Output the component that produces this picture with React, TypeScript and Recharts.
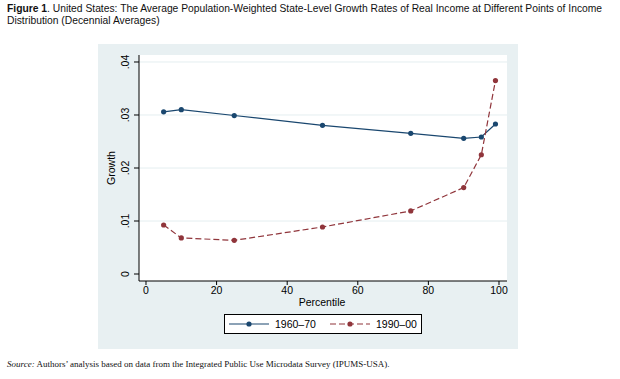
import React from 'react';
import { LineChart, Line, XAxis, YAxis, CartesianGrid } from 'recharts';

const percentiles = [5, 10, 25, 50, 75, 90, 95, 99];
const growth1960 = [0.0306, 0.031, 0.0299, 0.02805, 0.02655, 0.0256, 0.02585, 0.0283];
const growth1990 = [0.00925, 0.0068, 0.00635, 0.00887, 0.0119, 0.0163, 0.0225, 0.0365];
const seriesNames = ['1960–70', '1990–00'];
const xTicks = [0, 20, 40, 60, 80, 100];
const yTicks = [0, 0.01, 0.02, 0.03, 0.04];

const data = percentiles.map((p, i) => ({ p, a: growth1960[i], b: growth1990[i] }));

const BLUE = '#1a476f';
const RED = '#90353b';
const FONT = '"Liberation Sans", Arial, Helvetica, sans-serif';

const fmtY = (v: number) => (v === 0 ? '0' : v.toFixed(2).replace(/^0/, ''));

const YTick = (props: any) => {
  const { x, y, payload } = props;
  return (
    <text
      transform={`translate(${x - 3},${y}) rotate(-90)`}
      textAnchor="middle"
      fontSize={10.5}
      fontFamily={FONT}
      fill="#000"
    >
      {fmtY(payload.value)}
    </text>
  );
};

const LegendItem = ({ color, dashed, label, left }: { color: string; dashed: boolean; label: string; left: number }) => (
  <div style={{ position: 'absolute', left, top: 0, height: 18, display: 'flex', alignItems: 'center', whiteSpace: 'nowrap' }}>
    <svg width={42} height={10} style={{ marginRight: 5 }}>
      <line x1={1} y1={5} x2={41} y2={5} stroke={color} strokeWidth={1.2} strokeDasharray={dashed ? '6 3' : undefined} />
      <circle cx={21} cy={5} r={2.6} fill={color} />
    </svg>
    <span>{label}</span>
  </div>
);

export default function App() {
  return (
    <div style={{ position: 'absolute', left: 0, top: 0, width: 620, height: 379, background: '#fff', fontFamily: FONT, overflow: 'hidden' }}>
      <div style={{ position: 'absolute', left: 7, top: 3, width: 610, fontSize: 10.3, lineHeight: '12px', color: '#111', whiteSpace: 'nowrap' }}>
        <span style={{ fontWeight: 'bold' }}>Figure 1</span>. United States: The Average Population-Weighted State-Level Growth Rates of Real Income at Different Points of Income
        <br />
        Distribution (Decennial Averages)
      </div>
      <div style={{ position: 'absolute', left: 98, top: 44, width: 420, height: 305, background: '#e8f0f2' }} />
      <div style={{ position: 'absolute', left: 98, top: 44 }}>
        <LineChart width={420} height={305} data={data} margin={{ top: 11, right: 11, bottom: 0, left: 0 }}>
          <CartesianGrid fill="#fff" vertical={false} stroke="#e4eef0" horizontalValues={[0.01, 0.02, 0.03, 0.04]} />
          <XAxis
            dataKey="p"
            type="number"
            domain={[-1.98, 102.27]}
            allowDataOverflow
            ticks={xTicks}
            height={68}
            tickSize={4}
            tickMargin={2}
            stroke="#000"
            tick={{ fill: '#000', fontSize: 10.5, fontFamily: FONT }}
            interval={0}
          />
          <YAxis
            type="number"
            domain={[-0.00132, 0.04132]}
            allowDataOverflow
            ticks={yTicks}
            width={41}
            tickSize={5}
            tickMargin={2}
            stroke="#000"
            tick={<YTick />}
            interval={0}
          />
          <Line dataKey="a" stroke={BLUE} strokeWidth={1.2} dot={{ r: 2.6, fill: BLUE, stroke: BLUE, strokeWidth: 0 }} isAnimationActive={false} />
          <Line dataKey="b" stroke={RED} strokeWidth={1.2} strokeDasharray="6 3" dot={{ r: 2.6, fill: RED, stroke: RED, strokeWidth: 0, strokeDasharray: '' }} isAnimationActive={false} />
        </LineChart>
      </div>
      <div style={{ position: 'absolute', left: 272, top: 296, width: 100, textAlign: 'center', fontSize: 10.5, color: '#000' }}>Percentile</div>
      <div style={{ position: 'absolute', left: 111, top: 168, width: 0, height: 0 }}>
        <div style={{ position: 'absolute', left: -40, top: -7, width: 80, textAlign: 'center', fontSize: 10.5, lineHeight: '14px', transform: 'rotate(-90deg)', color: '#000' }}>Growth</div>
      </div>
      <div style={{ position: 'absolute', left: 224, top: 314, width: 198, height: 20, border: '1px solid #000', background: '#fff', boxSizing: 'border-box', fontSize: 10.5, color: '#000' }}>
        <LegendItem color={BLUE} dashed={false} label={seriesNames[0]} left={3} />
        <LegendItem color={RED} dashed={true} label={seriesNames[1]} left={104} />
      </div>
      <div style={{ position: 'absolute', left: 7, top: 359, fontFamily: '"Liberation Serif", "Times New Roman", serif', fontSize: 9, color: '#111', whiteSpace: 'nowrap' }}>
        <i>Source:</i> Authors’ analysis based on data from the Integrated Public Use Microdata Survey (IPUMS-USA).
      </div>
    </div>
  );
}
